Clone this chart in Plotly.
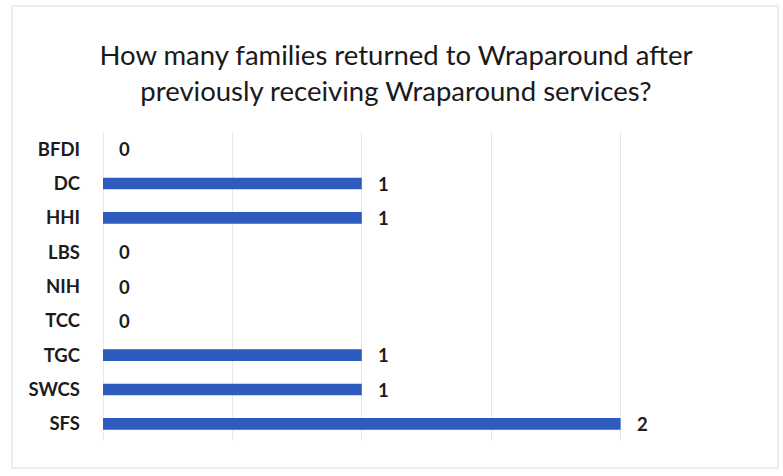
import plotly.graph_objects as go

# Organizations (top to bottom) and number of returning families
categories = ["BFDI", "DC", "HHI", "LBS", "NIH", "TCC", "TGC", "SWCS", "SFS"]
families = [0, 1, 1, 0, 0, 0, 1, 1, 2]

BAR_COLOR = "#2E5BBE"
FONT = "Lato"
TEXT_COLOR = "#1c1c1c"

fig = go.Figure()
fig.add_trace(go.Bar(
    y=categories,
    x=families,
    orientation="h",
    marker=dict(color=BAR_COLOR, line=dict(width=0)),
    width=0.34,
    hoverinfo="x+y",
))

# value labels just right of each bar end
for cat, val in zip(categories, families):
    fig.add_annotation(
        x=val, y=cat, xref="x", yref="y",
        text=str(val), showarrow=False,
        xanchor="left", xshift=14,
        font=dict(family=FONT, size=18.5, color=TEXT_COLOR, weight="bold"),
    )

# faint frame around the whole chart
fig.add_shape(
    type="rect", xref="paper", yref="paper",
    x0=-91 / 647, x1=(778 - 103) / 647,
    y0=-(468 - 441) / 309, y1=(441 - 6) / 309,
    line=dict(color="#e8e8e8", width=1.5),
    fillcolor="rgba(0,0,0,0)",
)

fig.update_layout(
    width=783, height=476,
    margin=dict(l=103, r=33, t=132, b=35),
    paper_bgcolor="white",
    plot_bgcolor="white",
    showlegend=False,
    title=dict(
        text="How many families returned to Wraparound after<br>previously receiving Wraparound services?",
        x=396 / 783, xanchor="center",
        yref="container", y=1 - 65 / 476, yanchor="middle",
        font=dict(family=FONT, size=27.5, color="#1a1a1a"),
    ),
    xaxis=dict(
        range=[0, 2.5], dtick=0.5, tick0=0,
        showgrid=True, gridcolor="#e8e8e8", gridwidth=1,
        zeroline=True, zerolinecolor="#e8e8e8", zerolinewidth=1,
        showticklabels=False, showline=False, ticks="",
    ),
    yaxis=dict(
        categoryorder="array", categoryarray=categories,
        autorange="reversed",
        showgrid=False, zeroline=False, showline=False,
        ticks="", ticklabelstandoff=22,
        tickfont=dict(family=FONT, size=18.5, color=TEXT_COLOR, weight="bold"),
    ),
)

fig.write_html("out.html")
